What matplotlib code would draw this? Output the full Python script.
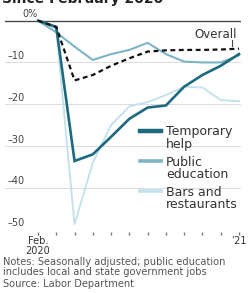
import matplotlib
matplotlib.use("Agg")
import matplotlib.pyplot as plt
from matplotlib.lines import Line2D

# ---- data (percent change since February 2020) ----
months = ["Feb", "Mar", "Apr", "May", "Jun", "Jul", "Aug", "Sep", "Oct", "Nov", "Dec", "Jan"]
temporary_help = [0, -1.5, -33.6, -32.0, -27.8, -23.5, -20.8, -20.3, -15.8, -13.0, -10.8, -8.0]
public_education = [0, -2.8, -6.2, -9.4, -8.0, -7.0, -5.3, -8.0, -9.8, -10.0, -10.0, -8.3]
bars_restaurants = [0, -2.0, -48.8, -34.0, -25.0, -20.5, -19.5, -17.8, -15.8, -16.0, -19.0, -19.3]
overall = [0, -1.5, -14.3, -13.0, -10.8, -9.0, -7.4, -7.1, -7.0, -7.0, -6.9, -6.7]
y_ticks = [0, -10, -20, -30, -40, -50]
x_labels = {0: "Feb.\n2020", 11: "\u201921"}
series_names = ["Temporary\nhelp", "Public\neducation", "Bars and\nrestaurants"]

W, H = 248, 293
C_TEMP = "#1d6a7e"
C_PUB = "#7db4c6"
C_BARS = "#c4e2ec"

fig = plt.figure(figsize=(W / 100, H / 100), dpi=100)
fig.patch.set_facecolor("white")

def fx(x):
    return x / W

def fy(y):
    return 1 - y / H

# axes placement (pixels)
left_px, right_px = 5, 241
top_px, bot_px = 18.6, 231.6
ax = fig.add_axes([fx(left_px), fy(bot_px), (right_px - left_px) / W, (bot_px - top_px) / H])
ax.set_xlim(-1.806, 11.11)
ax.set_ylim(-50.5, 0.5)
ax.set_facecolor("white")
for s in ax.spines.values():
    s.set_visible(False)

x = list(range(len(months)))

# gridlines
for v in y_ticks[1:-1]:
    ax.axhline(v, color="#dcdcdc", lw=0.7, zorder=1)
ax.axhline(0, color="#4a4a4a", lw=1.0, zorder=2)

ax.plot(x, bars_restaurants, color=C_BARS, lw=1.4, zorder=3, solid_joinstyle="miter")
ax.plot(x, public_education, color=C_PUB, lw=1.5, zorder=4, solid_joinstyle="miter")
ax.plot(x, temporary_help, color=C_TEMP, lw=1.9, zorder=5, solid_joinstyle="miter")
ax.plot(x, overall, color="#111111", lw=1.6, ls=(0, (2.2, 1.6)), zorder=6)

# y labels (above gridlines)
ax.set_yticks([])
for v in y_ticks:
    txt = "0%" if v == 0 else "\u2013" + str(abs(v))
    xpos = -1.806 + (22 - left_px) / 18.27 if v == 0 else -1.806 + (8 - left_px) / 18.27
    ax.text(xpos, v + 0.35, txt, fontsize=7, color="#444444", ha="left", va="bottom", zorder=7)

# x ticks
ax.set_xticks(x)
ax.set_xticklabels([x_labels.get(i, "") for i in x], fontsize=7, color="#333333", linespacing=1.0)
ax.tick_params(axis="x", length=2.2, width=1.0, color="#777777", pad=1)

# legend (manual)
leg = [(C_TEMP, 3.2, 131), (C_PUB, 2.6, 161), (C_BARS, 2.6, 191)]
for (c, lw, yy), name in zip(leg, series_names):
    fig.add_artist(Line2D([fx(140), fx(161)], [fy(yy), fy(yy)], color=c, lw=lw))
    fig.text(fx(166), fy(yy - 5.5), name, fontsize=9, color="#333333", ha="left", va="top",
             linespacing=0.92)

# Overall label
fig.text(fx(216), fy(34.5), "Overall", fontsize=8.5, color="#333333", ha="center", va="center")
fig.add_artist(Line2D([fx(232), fx(232)], [fy(40), fy(46)], color="#444444", lw=0.8))

# title (cut off at top in the reference)
fig.text(fx(2), fy(2.5), "Since February 2020", fontsize=10, fontweight="bold", color="#222222",
         ha="left", va="baseline")

# notes
note_kw = dict(fontsize=7.1, color="#555555", ha="left", va="center")
fig.text(fx(3), fy(262), "Notes: Seasonally adjusted; public education", **note_kw)
fig.text(fx(3), fy(272), "includes local and state government jobs", **note_kw)
fig.text(fx(3), fy(284), "Source: Labor Department", **note_kw)

fig.savefig("out.png", dpi=100, facecolor="white")
